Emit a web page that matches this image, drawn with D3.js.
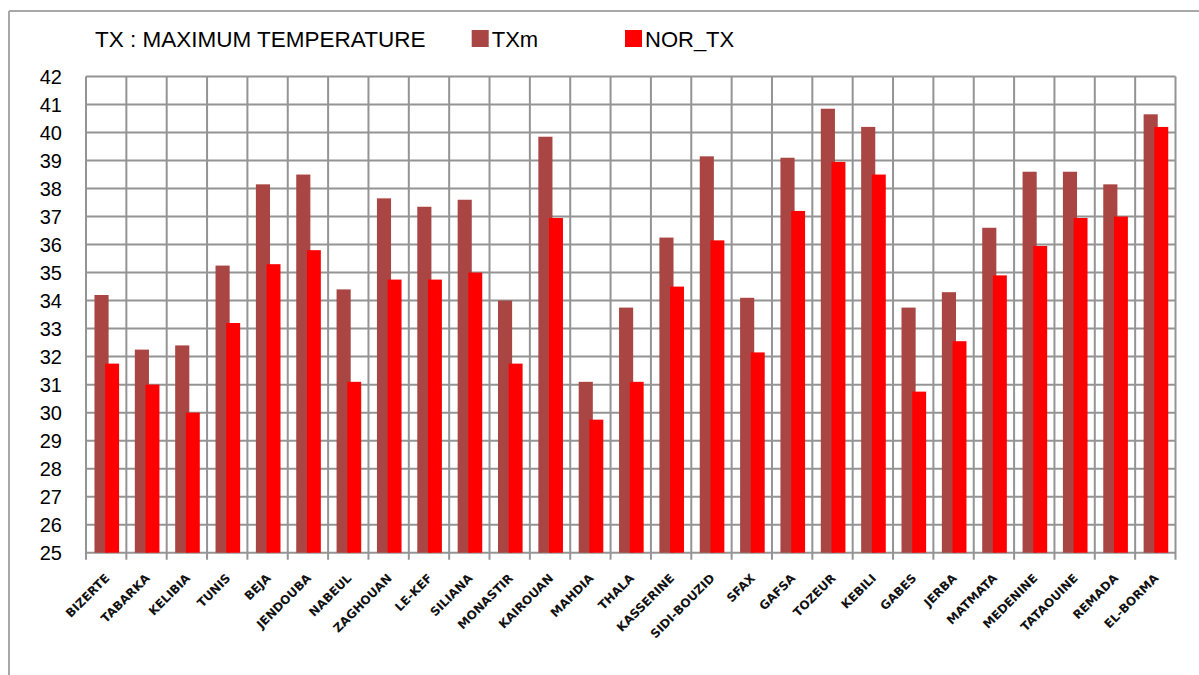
<!DOCTYPE html>
<html>
<head>
<meta charset="utf-8">
<script src="https://cdn.jsdelivr.net/npm/d3@7"></script>
<style>
  html, body { margin: 0; padding: 0; background: #fff; }
  svg { display: block; }
</style>
</head>
<body>
<script>
const categories = ["BIZERTE","TABARKA","KELIBIA","TUNIS","BEJA","JENDOUBA","NABEUL","ZAGHOUAN","LE-KEF","SILIANA","MONASTIR","KAIROUAN","MAHDIA","THALA","KASSERINE","SIDI-BOUZID","SFAX","GAFSA","TOZEUR","KEBILI","GABES","JERBA","MATMATA","MEDENINE","TATAOUINE","REMADA","EL-BORMA"];
const txm = [34.2,32.25,32.4,35.25,38.15,38.5,34.4,37.65,37.35,37.6,34.0,39.85,31.1,33.75,36.25,39.15,34.1,39.1,40.85,40.2,33.75,34.3,36.6,38.6,38.6,38.15,40.65];
const norTx = [31.75,31.0,30.0,33.2,35.3,35.8,31.1,34.75,34.75,35.0,31.75,36.95,29.75,31.1,34.5,36.15,32.15,37.2,38.95,38.5,30.75,32.55,34.9,35.95,36.95,37.0,40.2];
const yTicks = [25,26,27,28,29,30,31,32,33,34,35,36,37,38,39,40,41,42];
const seriesNames = ["TXm","NOR_TX"];
const seriesColors = ["#A94542","#FF0000"];
const titleText = "TX : MAXIMUM TEMPERATURE";

const W = 1199, H = 675;
const plot = {left: 86, right: 1175.5, top: 76.5, bottom: 552.7};
const gridColor = "#949494";

const svg = d3.select("body").append("svg").attr("width", W).attr("height", H);
svg.append("rect").attr("width", W).attr("height", H).attr("fill", "#fff");

// outer frame (top and left visible)
svg.append("line").attr("x1", 9).attr("x2", W).attr("y1", 11).attr("y2", 11)
  .attr("stroke", "#a8a8a8").attr("stroke-width", 2);
svg.append("line").attr("x1", 9).attr("x2", 9).attr("y1", 11).attr("y2", H)
  .attr("stroke", "#a8a8a8").attr("stroke-width", 2);

const x = d3.scaleBand().domain(categories).range([plot.left, plot.right]).padding(0);
const y = d3.scaleLinear().domain([25, 42]).range([plot.bottom, plot.top]);
const bw = x.bandwidth();

// grid: horizontal
svg.append("g").selectAll("line").data(yTicks).join("line")
  .attr("x1", plot.left).attr("x2", plot.right)
  .attr("y1", d => y(d)).attr("y2", d => y(d))
  .attr("stroke", gridColor).attr("stroke-width", 2);

// grid: vertical (category boundaries) + tick marks below axis
const bounds = categories.map(c => x(c)).concat([plot.right]);
svg.append("g").selectAll("line").data(bounds).join("line")
  .attr("x1", d => d).attr("x2", d => d)
  .attr("y1", plot.top).attr("y2", plot.bottom + 7)
  .attr("stroke", gridColor).attr("stroke-width", 2);

// bars
const g = svg.append("g");
g.selectAll("rect.txm").data(categories).join("rect").attr("class","txm")
  .attr("x", (d) => x(d) + bw * 0.21)
  .attr("width", bw * 0.35)
  .attr("y", (d, i) => y(txm[i]))
  .attr("height", (d, i) => y(25) - y(txm[i]))
  .attr("fill", seriesColors[0]);
g.selectAll("rect.nor").data(categories).join("rect").attr("class","nor")
  .attr("x", (d) => x(d) + bw * 0.475)
  .attr("width", bw * 0.345)
  .attr("y", (d, i) => y(norTx[i]))
  .attr("height", (d, i) => y(25) - y(norTx[i]))
  .attr("fill", seriesColors[1]);

// y axis labels
svg.append("g").selectAll("text").data(yTicks).join("text")
  .attr("x", 62).attr("y", d => y(d)).attr("dy", "0.36em")
  .attr("text-anchor", "end")
  .style("font-family", "'Liberation Sans', Arial, sans-serif")
  .style("font-size", "20px").attr("fill", "#000")
  .text(d => d);

// x axis labels rotated -45°
svg.append("g").selectAll("text").data(categories).join("text")
  .attr("transform", d => "translate(" + (x(d) + bw / 2 + 4) + ",579) rotate(-45)")
  .attr("text-anchor", "end")
  .style("font-family", "'DejaVu Sans', Verdana, sans-serif")
  .style("font-weight", "bold")
  .style("font-size", "12px").attr("fill", "#111")
  .text(d => d);

// title
svg.append("text").attr("x", 95).attr("y", 47.3)
  .style("font-family", "'Liberation Sans', Arial, sans-serif")
  .style("font-size", "22.5px").attr("fill", "#000")
  .text(titleText);

// legend
const legendX = [471.7, 625];
const lg = svg.append("g").selectAll("g").data(seriesNames).join("g")
  .attr("transform", (d, i) => `translate(${legendX[i]},0)`);
lg.append("rect").attr("x", 0).attr("y", 30).attr("width", 17).attr("height", 17)
  .attr("fill", (d, i) => seriesColors[i]);
lg.append("text").attr("x", 20).attr("y", 47.3)
  .style("font-family", "'Liberation Sans', Arial, sans-serif")
  .style("font-size", "22px").attr("fill", "#000")
  .text(d => d);
</script>
</body>
</html>
